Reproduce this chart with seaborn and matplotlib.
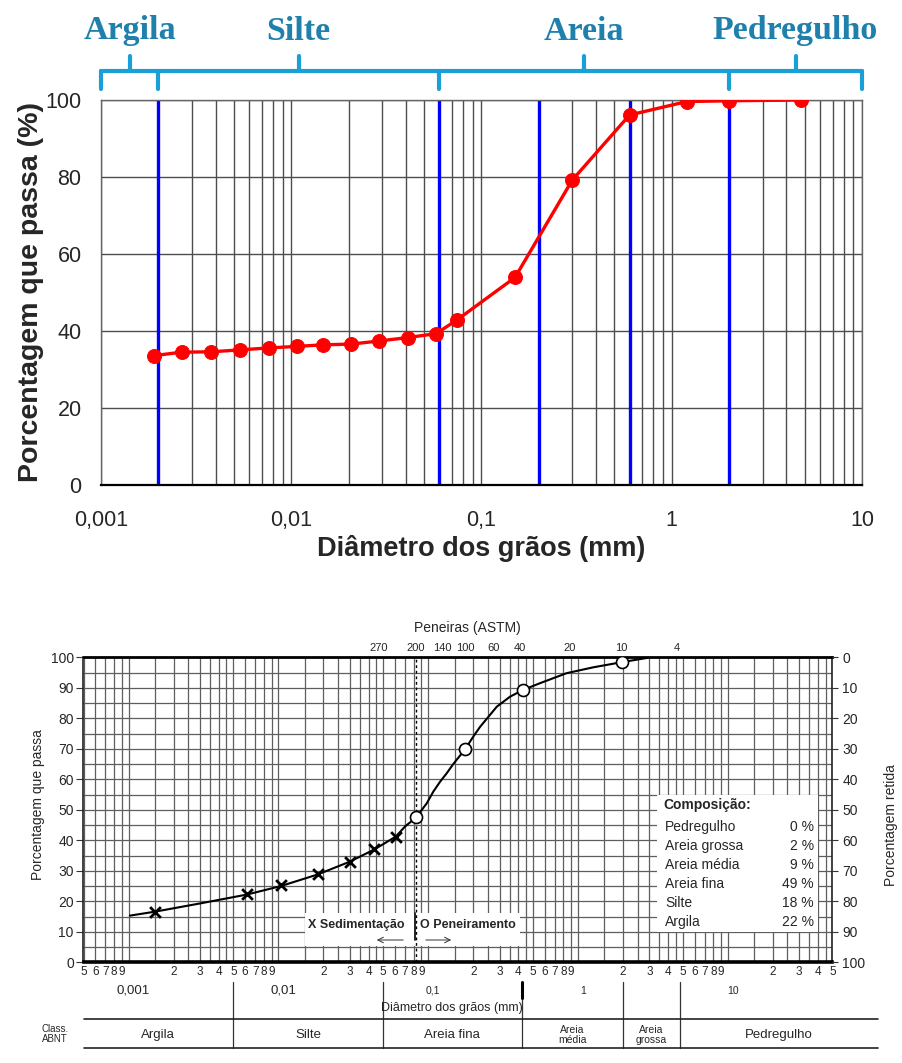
import numpy as np
import pandas as pd
import matplotlib
matplotlib.use("Agg")
import matplotlib.pyplot as plt
import seaborn as sns
from matplotlib.patches import Rectangle
from matplotlib.ticker import FixedLocator, NullFormatter

# ---------------- data: top chart ----------------
top_diam = [0.0019, 0.00265, 0.0038, 0.0054, 0.0076, 0.0107, 0.0146, 0.0206, 0.029,
            0.041, 0.0576, 0.074, 0.15, 0.30, 0.60, 1.2, 2.0, 4.8]
top_pass = [33.6, 34.5, 34.6, 35.1, 35.6, 36.0, 36.4, 36.6, 37.4,
            38.3, 39.3, 42.8, 53.9, 79.2, 96.1, 99.6, 99.8, 100.0]
top_limits = [0.002, 0.06, 0.2, 0.6, 2.0]
top_classes = ["Argila", "Silte", "Areia", "Pedregulho"]
top_class_edges = [0.001, 0.002, 0.06, 2.0, 10.0]
top_xticks = [0.001, 0.01, 0.1, 1, 10]
top_xticklabels = ["0,001", "0,01", "0,1", "1", "10"]
top_yticks = [0, 20, 40, 60, 80, 100]

# ---------------- data: bottom chart ----------------
sed_diam = [0.0015, 0.00615, 0.0104, 0.0183, 0.030, 0.0437, 0.0607]
sed_pass = [16.6, 22.4, 25.2, 28.9, 33.0, 37.1, 41.2]
siev_diam = [0.083, 0.176, 0.43, 1.96]
siev_pass = [47.5, 69.8, 89.3, 98.4]
curve_diam = [0.00102, 0.0015, 0.003, 0.00615, 0.0104, 0.0183, 0.030, 0.0437, 0.0607,
              0.07, 0.083, 0.0977, 0.108, 0.12, 0.133, 0.147, 0.176, 0.2, 0.222,
              0.287, 0.352, 0.43, 0.557, 0.84, 1.26, 1.96, 2.9]
curve_pass = [15.3, 16.6, 19.3, 22.2, 25.0, 28.8, 33.0, 37.0, 41.2,
              44.5, 47.5, 52.1, 55.9, 59.2, 62.0, 65.0, 69.8, 74.0, 77.2,
              83.8, 87.1, 89.3, 91.5, 94.8, 96.7, 98.4, 99.8]
sieve_names = ["270", "200", "140", "100", "60", "40", "20", "10", "4"]
sieve_label_diam = [0.047, 0.083, 0.124, 0.176, 0.275, 0.41, 0.885, 1.95, 4.6]
sieve_200 = 0.083
comp_names = ["Pedregulho", "Areia grossa", "Areia média", "Areia fina", "Silte", "Argila"]
comp_values = [0, 2, 9, 49, 18, 22]
abnt_names = ["Argila", "Silte", "Areia fina", "Areia\nmédia", "Areia\ngrossa", "Pedregulho"]
abnt_edges = [0.0005, 0.005, 0.05, 0.42, 2.0, 4.8, 100.7]
decade_vals = [0.001, 0.01, 0.1, 1, 10]
decade_labels = ["0,001", "0,01", "0,1", "1", "10"]
bot_mults_grid = [1, 1.5, 2, 2.5, 3, 3.5, 4, 4.5, 5, 6, 7, 8, 9]
bot_mults_label = [2, 3, 4, 5, 6, 7, 8, 9]

top_df = pd.DataFrame({"d": top_diam, "p": top_pass})
sed_df = pd.DataFrame({"d": sed_diam, "p": sed_pass})
siev_df = pd.DataFrame({"d": siev_diam, "p": siev_pass})
curve_df = pd.DataFrame({"d": curve_diam, "p": curve_pass})

sns.set_style("white")
plt.rcParams["font.family"] = ["Liberation Sans", "DejaVu Sans"]

W, H = 903, 1063
fig = plt.figure(figsize=(W / 100, H / 100), dpi=100)


def frac(x0, y0, x1, y1):
    return [x0 / W, 1 - y1 / H, (x1 - x0) / W, (y1 - y0) / H]


# ================= TOP CHART =================
ax = fig.add_axes(frac(101, 100, 862, 485))
ax.set_xscale("log")
ax.set_xlim(0.001, 10)
ax.set_ylim(0, 100)
minor_top = [m * 10.0 ** k for k in range(-3, 1) for m in range(2, 10)]
ax.xaxis.set_major_locator(FixedLocator(top_xticks))
ax.xaxis.set_minor_locator(FixedLocator(minor_top))
ax.xaxis.set_minor_formatter(NullFormatter())
ax.set_xticklabels(top_xticklabels)
ax.set_yticks(top_yticks)
ax.grid(True, which="both", axis="x", color="#4d4d4d", lw=1.0)
ax.grid(True, which="major", axis="y", color="#4d4d4d", lw=1.0)
ax.tick_params(axis="both", which="major", labelsize=15.5, length=6, width=1,
               color="#222222", direction="out")
ax.tick_params(axis="x", which="major", pad=12)
ax.tick_params(axis="y", which="major", pad=8)
ax.tick_params(axis="x", which="minor", length=0)
for s in ["top", "right", "left"]:
    ax.spines[s].set_color("#666666")
    ax.spines[s].set_linewidth(1.0)
ax.spines["bottom"].set_color("black")
ax.spines["bottom"].set_linewidth(1.6)
for lim in top_limits:
    ax.axvline(lim, color="#0000ff", lw=2.4, zorder=2)
sns.lineplot(data=top_df, x="d", y="p", ax=ax, color="#ff0000", lw=2.4,
             marker="o", markersize=10, markeredgecolor="#ff0000",
             estimator=None, sort=False, zorder=3)
ax.set_xlabel("Diâmetro dos grãos (mm)", fontsize=19.5, fontweight="bold")
ax.set_ylabel("Porcentagem que passa (%)", fontsize=20.5, fontweight="bold")
ax.xaxis.set_label_coords(0.5, (485 - 535) / 385)
ax.yaxis.set_label_coords((44 - 101) / 761, 0.5)

# braces above top chart
axb = fig.add_axes(frac(101, 0, 862, 95))
axb.set_xscale("log")
axb.set_xlim(0.001, 10)
axb.set_ylim(95, 0)
axb.axis("off")
brace_col = "#1a9fd6"
axb.plot([top_class_edges[0], top_class_edges[-1]], [71, 71], color=brace_col,
         lw=3, solid_capstyle="round", clip_on=False)
for e in top_class_edges:
    axb.plot([e, e], [71, 89], color=brace_col, lw=3, solid_capstyle="round", clip_on=False)
for i, name in enumerate(top_classes):
    mid = np.sqrt(top_class_edges[i] * top_class_edges[i + 1])
    axb.plot([mid, mid], [71, 56], color=brace_col, lw=3, solid_capstyle="round", clip_on=False)
    axb.text(mid, 31, name, ha="center", va="center", fontsize=24.5, fontweight="bold",
             family=["Liberation Serif", "DejaVu Serif"], color="#1f80ac", clip_on=False)

# ================= BOTTOM CHART =================
x0b, x1b, y0b, y1b = 83.5, 832.5, 657.3, 962.3
ab = fig.add_axes(frac(x0b, y0b, x1b, y1b))
ab.set_xscale("log")
ab.set_xlim(0.0005, 50)
ab.set_ylim(0, 100)
grid_x = [m * 10.0 ** k for k in range(-4, 2) for m in bot_mults_grid]
grid_x = [g for g in grid_x if 0.0005 <= g <= 50]
lab_x = [m * 10.0 ** k for k in range(-4, 2) for m in bot_mults_label]
lab_x = [v for v in lab_x if 0.0005 <= v <= 50 + 1e-9]
lab_txt = [str(int(round(v / 10 ** np.floor(np.log10(v))))) for v in lab_x]
ab.xaxis.set_major_locator(FixedLocator(lab_x))
ab.set_xticklabels(lab_txt)
ab.xaxis.set_minor_locator(FixedLocator(grid_x))
ab.xaxis.set_minor_formatter(NullFormatter())
ab.set_yticks(range(0, 101, 10))
ab.yaxis.set_minor_locator(FixedLocator(list(range(5, 100, 10))))
ab.grid(True, which="both", axis="both", color="#5e5e5e", lw=0.9)
ab.tick_params(axis="x", which="both", length=0, labelsize=8.5, pad=3)
ab.tick_params(axis="y", which="major", length=5, labelsize=10, pad=2, color="#333333")
ab.tick_params(axis="y", which="minor", length=0)
for s in ["left", "right"]:
    ab.spines[s].set_color("#222222")
    ab.spines[s].set_linewidth(1.2)
ab.spines["top"].set_color("black")
ab.spines["top"].set_linewidth(2.0)
ab.spines["bottom"].set_color("black")
ab.spines["bottom"].set_linewidth(2.6)

ab.axvline(sieve_200, color="black", lw=1.0, ls=(0, (2, 2)), zorder=3)

# white boxes
ab.add_patch(Rectangle(((657 - x0b) / 749, (y1b - 932) / 305), (818 - 657) / 749,
                       (932 - 795) / 305, transform=ab.transAxes, facecolor="white",
                       edgecolor="none", zorder=2))
ab.add_patch(Rectangle(((305 - x0b) / 749, (y1b - 946) / 305), (520 - 305) / 749,
                       (946 - 913) / 305, transform=ab.transAxes, facecolor="white",
                       edgecolor="none", zorder=2))

sns.lineplot(data=curve_df, x="d", y="p", ax=ab, color="black", lw=1.5,
             estimator=None, sort=False, zorder=4)
sns.scatterplot(data=sed_df, x="d", y="p", ax=ab, marker="x", s=60, color="black",
                linewidth=2.0, zorder=5)
sns.scatterplot(data=siev_df, x="d", y="p", ax=ab, marker="o", s=75, facecolor="white",
                edgecolor="black", linewidth=1.2, zorder=5)
ab.set_xlabel("")
ab.set_ylabel("Porcentagem que passa", fontsize=10)
ab.yaxis.set_label_coords((45 - x0b) / 749, (y1b - 805) / 305)

# sedimentation / sieving labels
tb = ab.transAxes
ab.text((308 - x0b) / 749, (y1b - 925) / 305, "X Sedimentação", transform=tb,
        fontsize=9, fontweight="bold", va="center", ha="left", zorder=6)
ab.text((420 - x0b) / 749, (y1b - 925) / 305, "O Peneiramento", transform=tb,
        fontsize=9, fontweight="bold", va="center", ha="left", zorder=6)
ab.plot([(415 - x0b) / 749] * 2, [(y1b - 913) / 305, (y1b - 940) / 305], transform=tb,
        color="black", lw=1.2, zorder=6)
ab.annotate("", xy=((374 - x0b) / 749, (y1b - 940) / 305),
            xytext=((406 - x0b) / 749, (y1b - 940) / 305), xycoords=tb, textcoords=tb,
            arrowprops=dict(arrowstyle="->", lw=0.7, color="#333333"), zorder=6)
ab.annotate("", xy=((454 - x0b) / 749, (y1b - 940) / 305),
            xytext=((423 - x0b) / 749, (y1b - 940) / 305), xycoords=tb, textcoords=tb,
            arrowprops=dict(arrowstyle="->", lw=0.7, color="#333333"), zorder=6)

# composition box text
ab.text((663 - x0b) / 749, (y1b - 805) / 305, "Composição:", transform=tb,
        fontsize=10, fontweight="bold", va="center", ha="left", zorder=6)
for i, (nm, val) in enumerate(zip(comp_names, comp_values)):
    yy = (y1b - (826.7 + i * 19.0)) / 305
    ab.text((665 - x0b) / 749, yy, nm, transform=tb, fontsize=10, va="center",
            ha="left", zorder=6)
    ab.text((814 - x0b) / 749, yy, f"{val} %", transform=tb, fontsize=10, va="center",
            ha="right", zorder=6)

# sieves along top
for nm, dv in zip(sieve_names, sieve_label_diam):
    ab.text(dv, 101.5, nm, fontsize=8, ha="center", va="bottom", clip_on=False)
ab.text((467 - x0b) / 749, (y1b - 628) / 305, "Peneiras (ASTM)", transform=tb,
        fontsize=10, ha="center", va="center", clip_on=False)

# right axis
ar = ab.twinx()
ar.set_ylim(100, 0)
ar.set_yticks(range(0, 101, 10))
ar.tick_params(axis="y", length=4, labelsize=10, pad=3, color="#333333")
ar.grid(False)
for s in ar.spines.values():
    s.set_visible(False)
ar.set_ylabel("Porcentagem retida", fontsize=10)
ar.yaxis.set_label_coords((884 - x0b) / 749, (y1b - 825) / 305)

# ================= classification table =================
xr = 878
at = fig.add_axes(frac(x0b, 975, xr, 1050))
at.set_xscale("log")
at.set_xlim(abnt_edges[0], abnt_edges[-1])
at.set_ylim(1050, 975)
at.axis("off")
for e in abnt_edges[1:-1]:
    at.plot([e, e], [981.7, 1048.3], color="#333333", lw=0.9, clip_on=False)
at.plot([abnt_edges[3]] * 2, [981.7, 998], color="black", lw=2.2, clip_on=False)
for yy in [1019, 1048.3]:
    at.plot([abnt_edges[0], abnt_edges[-1]], [yy, yy], color="#222222", lw=1.2, clip_on=False)
for dv, lb in zip(decade_vals, decade_labels):
    fs = 9.5 if dv < 0.05 else 7.5
    at.text(dv * 1.08, 991, lb, ha="center", va="center", fontsize=fs)
at.text(np.sqrt(abnt_edges[2] * abnt_edges[3]), 1008, "Diâmetro dos grãos (mm)",
        ha="center", va="center", fontsize=9)
for i, nm in enumerate(abnt_names):
    mid = np.sqrt(abnt_edges[i] * abnt_edges[i + 1])
    fs = 7.5 if "\n" in nm else 9.5
    at.text(mid, 1035, nm, ha="center", va="center", fontsize=fs, linespacing=1.0)
fig.text(55 / W, 1 - 1034 / H, "Class.\nABNT", ha="center", va="center",
         fontsize=7, linespacing=1.0)

fig.savefig("out.png", dpi=100)
